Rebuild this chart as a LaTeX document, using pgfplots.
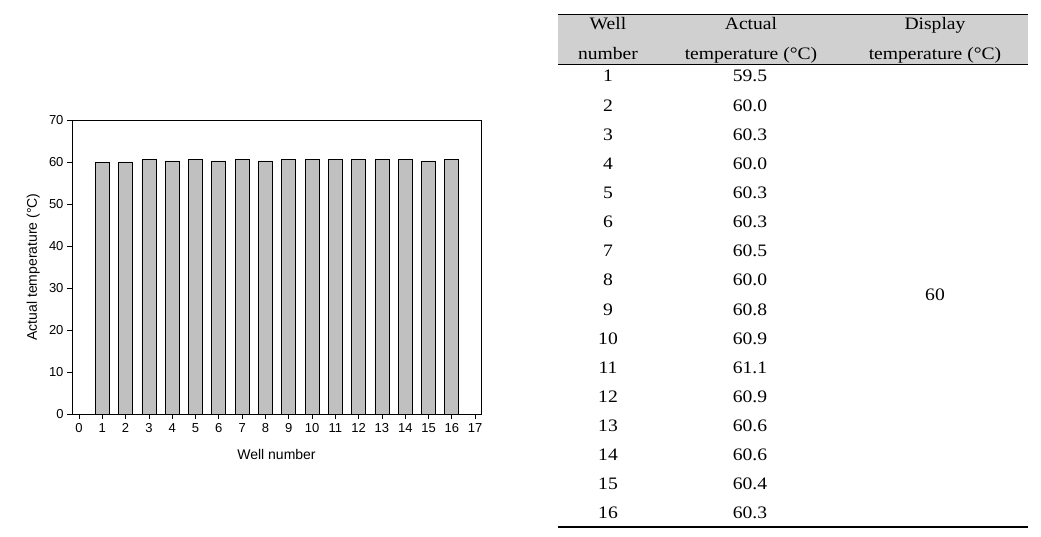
\documentclass[border=0pt]{standalone}
\usepackage{pgfplots}
\pgfplotsset{compat=1.18}
\usepackage{fontspec}
\setmainfont{Liberation Sans}
\newfontfamily\tabfont[FakeStretch=1.12]{Liberation Serif}
\definecolor{barfill}{RGB}{192,192,192}
\definecolor{hdr}{RGB}{208,208,208}
\newcommand\tickfont{\fontsize{13bp}{15bp}\selectfont}
\begin{document}
\begin{tikzpicture}[x=1bp,y=-1bp]
\path[use as bounding box] (0,0) rectangle (1041,537);
\coordinate (A) at (72,414);
\begin{axis}[at={(A)}, anchor=south west, scale only axis, width=409bp, height=294bp,
 xmin=-0.3, xmax=17.25, ymin=0, ymax=70,
 xtick={0,...,17}, ytick={0,10,...,70},
 xtick pos=bottom, ytick pos=left, tick align=outside, major tick length=5bp,
 tick style={black, line width=0.8pt}, axis line style={line width=0.8pt},
 xticklabel={\tickfont\pgfmathprintnumber[assume math mode=true]{\tick}},
 yticklabel={\tickfont\pgfmathprintnumber[assume math mode=true]{\tick}},
 xticklabel style={yshift=-1bp},
 xlabel={Well number}, ylabel={Actual temperature (°C)},
 label style={font=\fontsize{14bp}{16bp}\selectfont},
 xlabel style={at={(axis description cs:0.5,-0.139)}, anchor=center},
 ylabel style={at={(axis description cs:-0.095,0.5)}, anchor=center},
]
\addplot[ybar, bar width=0.6, fill=barfill, draw=black, line width=0.8pt] coordinates {
(1,59.8) (2,60.0) (3,60.5) (4,60.25) (5,60.5) (6,60.25) (7,60.5) (8,60.25)
(9,60.7) (10,60.7) (11,60.7) (12,60.7) (13,60.5) (14,60.7) (15,60.25) (16,60.5)};
\end{axis}
\fill[hdr] (558,14) rectangle (1028,64);
\draw[line width=0.8bp] (558,14) -- (1028,14);
\draw[line width=0.8bp] (558,64) -- (1028,64);
\draw[line width=1.2bp] (558,527) -- (1028,527);
\begin{scope}[every node/.style={inner sep=0pt, anchor=base, font=\tabfont\fontsize{17.5bp}{20bp}\selectfont}]
\node at (608,30) {Well};
\node at (608,60) {number};
\node at (751,30) {Actual};
\node at (751,60) {temperature (°C)};
\node at (935,30) {Display};
\node at (935,60) {temperature (°C)};
\foreach \n/\v [count=\i from 0] in {1/59.5, 2/60.0, 3/60.3, 4/60.0, 5/60.3, 6/60.3, 7/60.5, 8/60.0, 9/60.8, 10/60.9, 11/61.1, 12/60.9, 13/60.6, 14/60.6, 15/60.4, 16/60.3} {
  \node at (608,82+29.13*\i) {\n};
  \node at (750,82+29.13*\i) {\v};
}
\node at (935,301) {60};
\end{scope}
\end{tikzpicture}
\end{document}
